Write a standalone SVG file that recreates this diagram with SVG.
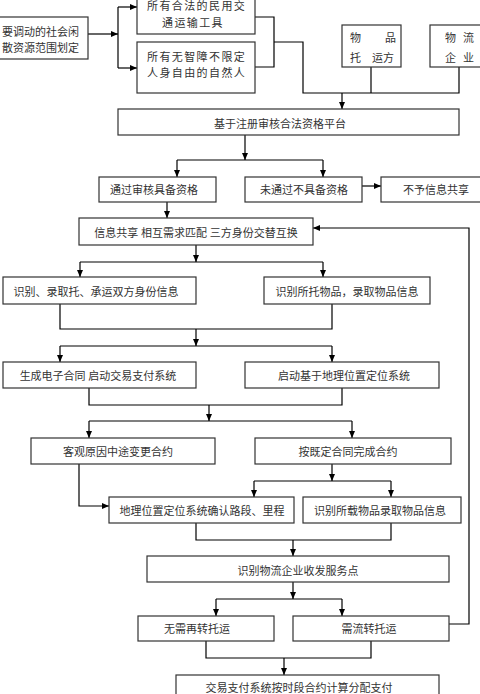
<svg xmlns="http://www.w3.org/2000/svg" width="480" height="694" viewBox="0 0 480 694">
<defs>
<marker id="ah" markerUnits="userSpaceOnUse" markerWidth="8" markerHeight="7" refX="7" refY="3" orient="auto">
<path d="M0,0 L7,3 L0,6 z" fill="#000"/>
</marker>
<style>
.b{fill:#fff;stroke:#333;stroke-width:1.2}
.t{font-family:"Liberation Serif","Noto Sans CJK SC",serif;font-size:11px;fill:#333}
.c{text-anchor:middle}
.w{letter-spacing:1.4px}
.l{fill:none;stroke:#000;stroke-width:1.2}
.a{fill:none;stroke:#000;stroke-width:1.2;marker-end:url(#ah)}
</style>
</defs>
<rect width="480" height="694" fill="#fff"/>
<g id="connectors">
<path class="a" d="M88,34 H118"/>
<path class="l" d="M118,7 V68"/>
<path class="a" d="M118,7 H137"/>
<path class="a" d="M118,68 H137"/>
<path class="l" d="M255,17 H274 V67 H255"/>
<path class="l" d="M274,42 H303 V93 H459 V67"/>
<path class="l" d="M371,67 V93"/>
<path class="a" d="M342,93 V109"/>
<path class="a" d="M245,135 V160"/>
<path class="l" d="M177,160 H323"/>
<path class="a" d="M177,160 V177"/>
<path class="a" d="M323,160 V177"/>
<path class="a" d="M362,186 H381"/>
<path class="a" d="M167,202 V218"/>
<path class="a" d="M196,245 V262"/>
<path class="l" d="M80,262 H323"/>
<path class="a" d="M80,262 V277"/>
<path class="a" d="M323,262 V277"/>
<path class="l" d="M60,304 V329 H332 V304"/>
<path class="a" d="M196,329 V346"/>
<path class="l" d="M60,346 H332"/>
<path class="a" d="M60,346 V362"/>
<path class="a" d="M332,346 V362"/>
<path class="l" d="M89,388 V405 H342 V388"/>
<path class="a" d="M209,405 V421"/>
<path class="l" d="M89,421 H352"/>
<path class="a" d="M89,421 V438"/>
<path class="a" d="M352,421 V438"/>
<path class="a" d="M79,464 V506 H109"/>
<path class="a" d="M332,464 V481"/>
<path class="l" d="M254,481 H391"/>
<path class="a" d="M254,481 V497"/>
<path class="a" d="M391,481 V497"/>
<path class="l" d="M196,523 V540 H391 V523"/>
<path class="a" d="M293,540 V556"/>
<path class="a" d="M293,582 V599"/>
<path class="l" d="M216,599 H342"/>
<path class="a" d="M216,599 V616"/>
<path class="a" d="M342,599 V616"/>
<path class="l" d="M206,641 V658 H371 V641"/>
<path class="a" d="M284,658 V675"/>
<path class="a" d="M449,624 H469 V228 H313"/>
</g>
<g id="n1"><rect class="b" x="-5" y="17" width="93" height="42"/>
<text class="t" x="2" y="36">要调动的社会闲</text><text class="t" x="2" y="52">散资源范围划定</text></g>
<g id="n2"><rect class="b" x="137" y="-1" width="118" height="35"/>
<text class="t w" x="147" y="10">所有合法的民用交</text><text class="t w" x="162" y="27">通运输工具</text></g>
<g id="n3"><rect class="b" x="137" y="42" width="118" height="51"/>
<text class="t w" x="147" y="61">所有无智障不限定</text><text class="t w" x="147" y="77">人身自由的自然人</text></g>
<g id="n4"><rect class="b" x="342" y="25" width="59" height="42"/>
<text class="t"><tspan x="350" y="42">物</tspan><tspan x="385" y="42">品</tspan><tspan x="350" y="62">托</tspan><tspan x="372" y="62">运方</tspan></text></g>
<g id="n5"><rect class="b" x="430" y="25" width="60" height="42"/>
<text class="t"><tspan x="445" y="42">物</tspan><tspan x="463" y="42">流</tspan><tspan x="445" y="62">企</tspan><tspan x="463" y="62">业</tspan></text></g>
<g id="n6"><rect class="b" x="118" y="109" width="341" height="26"/>
<text class="t c" x="280" y="128">基于注册审核合法资格平台</text></g>
<g id="n7"><rect class="b" x="99" y="177" width="117" height="25"/>
<text class="t c" x="154" y="194">通过审核具备资格</text></g>
<g id="n8"><rect class="b" x="245" y="177" width="117" height="25"/>
<text class="t c" x="304" y="194">未通过不具备资格</text></g>
<g id="n9"><rect class="b" x="381" y="177" width="110" height="25"/>
<text class="t c" x="436" y="194">不予信息共享</text></g>
<g id="n10"><rect class="b" x="79" y="218" width="234" height="27"/>
<text class="t c" x="196" y="237">信息共享 相互需求匹配 三方身份交替互换</text></g>
<g id="n11"><rect class="b" x="3" y="277" width="193" height="27"/>
<text class="t c" x="96" y="296">识别、录取托、承运双方身份信息</text></g>
<g id="n12"><rect class="b" x="264" y="277" width="166" height="27"/>
<text class="t c" x="347" y="296">识别所托物品，录取物品信息</text></g>
<g id="n13"><rect class="b" x="3" y="362" width="193" height="26"/>
<text class="t c" x="98" y="380">生成电子合同 启动交易支付系统</text></g>
<g id="n14"><rect class="b" x="245" y="362" width="194" height="26"/>
<text class="t c" x="344" y="380">启动基于地理位置定位系统</text></g>
<g id="n15"><rect class="b" x="31" y="438" width="184" height="26"/>
<text class="t c" x="118" y="456">客观原因中途变更合约</text></g>
<g id="n16"><rect class="b" x="255" y="438" width="196" height="26"/>
<text class="t c" x="348" y="456">按既定合同完成合约</text></g>
<g id="n17"><rect class="b" x="109" y="497" width="185" height="26"/>
<text class="t c" x="202" y="515">地理位置定位系统确认路段、里程</text></g>
<g id="n18"><rect class="b" x="303" y="497" width="158" height="26"/>
<text class="t c" x="380" y="515">识别所载物品录取物品信息</text></g>
<g id="n19"><rect class="b" x="147" y="556" width="302" height="26"/>
<text class="t c" x="298" y="575">识别物流企业收发服务点</text></g>
<g id="n20"><rect class="b" x="138" y="616" width="136" height="25"/>
<text class="t c" x="197" y="633">无需再转托运</text></g>
<g id="n21"><rect class="b" x="293" y="616" width="156" height="25"/>
<text class="t c" x="369" y="633">需流转托运</text></g>
<g id="n22"><rect class="b" x="176" y="675" width="263" height="25"/>
<text class="t c" x="299" y="692">交易支付系统按时段合约计算分配支付</text></g>
</svg>
